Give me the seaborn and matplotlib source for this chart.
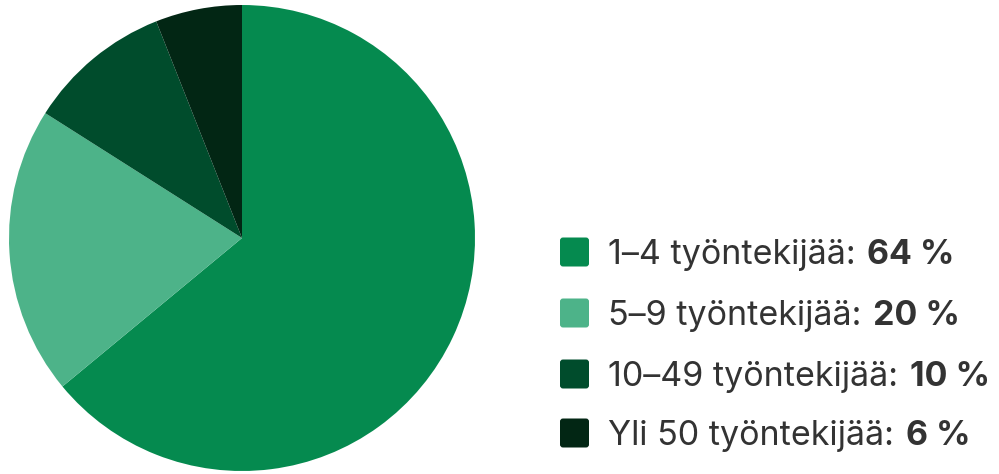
import matplotlib.pyplot as plt
import seaborn as sns
from matplotlib.patches import FancyBboxPatch

# data
labels = ['1–4 työntekijää:', '5–9 työntekijää:', '10–49 työntekijää:', 'Yli 50 työntekijää:']
shares = [64, 20, 10, 6]
colors = ['#058a4f', '#4db389', '#004c2c', '#022614']

sns.set_theme(style='white')
plt.rcParams['font.family'] = ['Inter', 'DejaVu Sans']

W, H = 999, 474
fig = plt.figure(figsize=(W / 100, H / 100), dpi=100)

# pie axes: center (242, 238) px from top-left, radius ~233 px
cx, cy, r = 242, 238, 233
ax = fig.add_axes([(cx - r) / W, (H - cy - r) / H, 2 * r / W, 2 * r / H])
ax.pie(shares, colors=colors, startangle=90, counterclock=False,
       radius=1, wedgeprops=dict(linewidth=0))
ax.set_xlim(-1, 1)
ax.set_ylim(-1, 1)
ax.set_aspect('equal')
ax.axis('off')

# legend drawn by hand so the percentage can be bold
lax = fig.add_axes([0, 0, 1, 1])
lax.set_xlim(0, W)
lax.set_ylim(H, 0)
lax.axis('off')

row_y = [252, 313, 374, 433]
for lab, val, col, y in zip(labels, shares, colors, row_y):
    box = FancyBboxPatch((560, y - 14.5), 29, 29, boxstyle='round,pad=0,rounding_size=3',
                         facecolor=col, edgecolor='none')
    lax.add_patch(box)
    t = lax.text(608, y + 12, lab + ' ', fontsize=24.5, color='#333333', va='baseline')
    lax.annotate(f'{val} %', xy=(1, 0), xycoords=t, xytext=(2, 0), textcoords='offset pixels',
                 va='bottom', ha='left', fontsize=24.5, fontweight='bold', color='#333333')

fig.savefig('out.png', dpi=100)
